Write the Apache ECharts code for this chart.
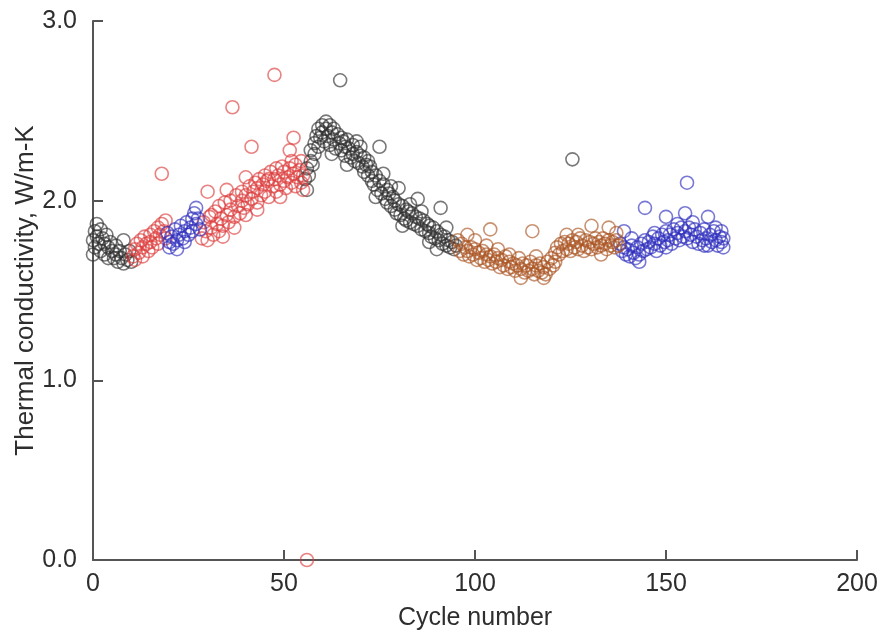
<!DOCTYPE html>
<html>
<head>
<meta charset="utf-8">
<script src="https://cdn.jsdelivr.net/npm/echarts@6/dist/echarts.min.js"></script>
<style>
  html, body { margin: 0; padding: 0; background: #fff; }
  #chart { width: 878px; height: 636px; }
</style>
</head>
<body>
<div id="chart"></div>
<script>
// [cycle, conductivity] pairs per colour group
var blackData = [
  [0,1.70],[0,1.78],[0.5,1.74],[0.5,1.83],[1,1.80],[1,1.87],[1.5,1.76],[2,1.84],[2,1.72],[2.5,1.79],
  [3,1.76],[3,1.70],[3.5,1.81],[4,1.74],[4,1.68],[4.5,1.77],[5,1.72],[5.5,1.68],[6,1.75],[6,1.70],
  [6.5,1.66],[7,1.72],[7.5,1.68],[8,1.78],[8,1.65],[8.5,1.70],[9,1.67],[9.5,1.72],[10,1.66],
  [55.5,2.12],[56,2.06],[56,2.18],[56.5,2.14],[57,2.22],[57,2.28],[57.5,2.20],[58,2.32],[58,2.26],
  [58.5,2.36],[59,2.30],[59,2.40],[59.5,2.35],[60,2.42],[60,2.38],[60.5,2.33],[61,2.44],[61,2.40],
  [61.5,2.36],[62,2.42],[62,2.31],[62.5,2.38],[62.5,2.26],[63,2.40],[63,2.34],[63.5,2.29],[64,2.37],
  [64.5,2.32],[64.7,2.67],[65,2.35],[65,2.28],[65.5,2.33],[66,2.30],[66,2.25],[66.5,2.34],[66.5,2.20],
  [67,2.29],[67.5,2.24],[68,2.31],[68,2.26],[68.5,2.22],[69,2.33],[69,2.27],[69.5,2.21],[70,2.25],
  [70,2.30],[70.5,2.19],[71,2.24],[71,2.16],[71.5,2.20],[72,2.14],[72,2.22],[72.5,2.19],[73,2.11],
  [73,2.16],[73.5,2.09],[74,2.14],[74,2.02],[74.5,2.06],[75,2.30],[75,2.11],[75.5,2.04],[76,2.09],
  [76,2.15],[76.5,2.01],[77,2.06],[77,1.99],[77.5,2.04],[78,1.97],[78,2.08],[78.5,2.02],[79,1.95],
  [79,2.00],[79.5,1.93],[80,2.07],[80,1.98],[80.5,1.92],[81,1.97],[81,1.86],[81.5,1.90],[82,1.95],
  [82,1.89],[82.5,1.94],[83,1.88],[83,1.98],[83.5,1.93],[84,1.87],[84.5,1.91],[85,2.01],[85,1.86],
  [85.5,1.90],[86,1.84],[86,1.94],[86.5,1.89],[87,1.83],[87.5,1.87],[88,1.82],[88,1.86],[88,1.77],
  [88.5,1.80],[89,1.85],[89.5,1.79],[90,1.83],[90,1.73],[90.5,1.78],[91,1.96],[91,1.81],[91.5,1.76],
  [92,1.80],[92.5,1.75],[92.5,1.85],[93,1.78],[93.5,1.74],[94,1.77],[94.5,1.73],[95,1.75],
  [125.5,2.23]
];
var redData = [
  [10.5,1.69],[11,1.73],[11,1.67],[11.5,1.76],[12,1.71],[12.5,1.78],[13,1.74],[13,1.69],[13.5,1.80],
  [14,1.76],[14.5,1.72],[15,1.81],[15,1.77],[15.5,1.74],[16,1.83],[16.5,1.79],[17,1.76],[17,1.85],
  [17.5,1.81],[18,2.15],[18,1.87],[18.5,1.83],[19,1.89],[19,1.79],
  [28.5,1.79],[29,1.88],[29.5,1.83],[30,2.05],[30,1.78],[30.5,1.91],[31,1.85],[31,1.92],[31.5,1.81],
  [32,1.94],[32.5,1.87],[33,1.83],[33,1.97],[33.5,1.90],[34,1.86],[34,1.80],[34.5,1.99],[35,2.06],
  [35,1.92],[35.5,1.88],[36,2.00],[36,1.95],[36.5,2.52],[37,1.91],[37,1.85],[37.5,2.03],[38,1.97],
  [38.5,1.93],[39,2.05],[39,2.00],[39.5,1.96],[40,2.13],[40,2.03],[40,1.92],[40.5,1.98],[41,2.08],
  [41.5,2.30],[41.5,2.01],[42,2.05],[42.5,2.10],[43,1.99],[43,2.07],[43,1.95],[43.5,2.12],[44,2.03],
  [44.5,2.09],[45,2.14],[45,2.05],[45.5,2.11],[46,2.02],[46,2.12],[46.5,2.16],[47,2.08],[47.5,2.70],
  [47.5,2.12],[48,2.18],[48,2.05],[48.5,2.14],[49,2.09],[49,2.02],[49.5,2.19],[50,2.11],[50,2.16],
  [50.5,2.07],[51,2.13],[51.5,2.28],[51.5,2.18],[52,2.10],[52,2.22],[52.5,2.35],[52.5,2.15],[53,2.20],
  [53,2.08],[53.5,2.13],[54,2.17],[54.5,2.10],[54.5,2.22],[55,2.14],[55,2.06],[56,0.0]
];
var blueData = [
  [19.5,1.82],[20,1.77],[20,1.74],[20.5,1.80],[21,1.76],[21.5,1.84],[22,1.78],[22,1.73],[22.5,1.81],
  [23,1.86],[23.5,1.79],[24,1.83],[24,1.77],[24.5,1.88],[25,1.81],[25.5,1.85],[26,1.90],[26,1.83],
  [26.5,1.93],[27,1.87],[27,1.96],[27.5,1.90],[28,1.84],
  [138,1.76],[138.5,1.72],[139,1.83],[139,1.74],[139.5,1.70],[140,1.73],[140.5,1.69],[141,1.75],
  [141,1.79],[141.5,1.71],[142,1.68],[142.5,1.74],[143,1.70],[143,1.66],[143.5,1.76],[144,1.72],
  [144.5,1.96],[144.5,1.78],[145,1.73],[145.5,1.77],[146,1.74],[146.5,1.80],[147,1.76],[147,1.82],
  [147.5,1.72],[148,1.79],[148.5,1.75],[149,1.81],[149.5,1.77],[150,1.91],[150,1.83],[150,1.74],
  [150.5,1.78],[151,1.81],[151.5,1.76],[152,1.84],[152.5,1.79],[153,1.82],[153,1.87],[153.5,1.78],
  [154,1.85],[154.5,1.80],[155,1.93],[155,1.83],[155.5,2.10],[155.5,1.79],[156,1.85],[156.5,1.81],
  [157,1.77],[157,1.88],[157.5,1.84],[158,1.80],[158.5,1.76],[159,1.82],[159.5,1.78],[160,1.84],
  [160,1.75],[160.5,1.79],[161,1.91],[161,1.75],[161.5,1.81],[162,1.77],[162.5,1.83],[163,1.78],
  [163,1.85],[163.5,1.75],[164,1.80],[164.5,1.83],[164.5,1.77],[165,1.79],[165,1.74]
];
var brownData = [
  [95.5,1.78],[96,1.72],[96.5,1.76],[97,1.70],[97.5,1.74],[98,1.81],[98,1.72],[98.5,1.69],[99,1.74],
  [99.5,1.70],[100,1.73],[100,1.78],[100.5,1.67],[101,1.71],[101.5,1.68],[102,1.72],[102.5,1.66],
  [103,1.70],[103,1.75],[103.5,1.67],[104,1.84],[104,1.69],[104.5,1.65],[105,1.70],[105.5,1.66],
  [106,1.68],[106,1.73],[106.5,1.63],[107,1.67],[107.5,1.64],[108,1.69],[108.5,1.62],[109,1.66],
  [109,1.70],[109.5,1.63],[110,1.65],[110.5,1.61],[111,1.64],[111.5,1.68],[112,1.62],[112,1.57],
  [112.5,1.65],[113,1.60],[113.5,1.64],[114,1.61],[114.5,1.66],[115,1.83],[115,1.62],[115.5,1.59],
  [116,1.64],[116,1.69],[116.5,1.61],[117,1.65],[117.5,1.60],[118,1.63],[118,1.57],[118.5,1.59],
  [119,1.66],[119.5,1.62],[120,1.68],[120.5,1.64],[121,1.71],[121,1.66],[121.5,1.74],[122,1.70],
  [122.5,1.76],[123,1.72],[123.5,1.77],[124,1.81],[124,1.73],[124.5,1.76],[125,1.72],[125.5,1.78],
  [126,1.74],[126.5,1.77],[127,1.73],[127,1.81],[127.5,1.79],[128,1.75],[128.5,1.72],[129,1.78],
  [129.5,1.74],[130,1.77],[130.5,1.86],[130.5,1.73],[131,1.76],[131.5,1.79],[132,1.74],[132.5,1.77],
  [133,1.75],[133,1.70],[133.5,1.79],[134,1.76],[134.5,1.73],[135,1.85],[135,1.78],[135.5,1.75],
  [136,1.77],[136.5,1.74],[137,1.78],[137,1.82],[137.5,1.75]
];
var xTicks = [0, 50, 100, 150, 200];
var yTicks = [0, 1, 2, 3];

function ring(name, data, col) {
  return {
    name: name,
    type: 'scatter',
    data: data,
    symbol: 'circle',
    symbolSize: 13,
    itemStyle: { color: 'rgba(255,255,255,0)', borderColor: col, borderWidth: 1.6 }
  };
}

var chart = echarts.init(document.getElementById('chart'));
var axisTxt = { color: '#2e2e2e', fontFamily: 'Liberation Sans', fontSize: 25 };
var option = {
  animation: false,
  grid: { left: 93, right: 21, top: 21, bottom: 76, outerBoundsMode: 'none' },
  xAxis: {
    type: 'value', min: xTicks[0], max: xTicks[xTicks.length - 1], interval: 50,
    name: 'Cycle number', nameLocation: 'middle', nameGap: 46, nameMoveOverlap: false,
    nameTextStyle: { color: '#2e2e2e', fontFamily: 'Liberation Sans', fontSize: 25 },
    axisLine: { show: true, lineStyle: { color: '#555', width: 2 } },
    axisTick: { show: true, inside: true, length: 10, lineStyle: { color: '#555', width: 2 } },
    axisLabel: Object.assign({ margin: 12 }, axisTxt),
    splitLine: { show: false }
  },
  yAxis: {
    type: 'value', min: yTicks[0], max: yTicks[yTicks.length - 1], interval: 1,
    name: 'Thermal conductivity, W/m-K', nameLocation: 'middle', nameGap: 54, nameMoveOverlap: false,
    nameTextStyle: { color: '#2e2e2e', fontFamily: 'Liberation Sans', fontSize: 26 },
    axisLine: { show: true, lineStyle: { color: '#555', width: 2 } },
    axisTick: { show: true, inside: true, length: 10, lineStyle: { color: '#555', width: 2 } },
    axisLabel: Object.assign({ margin: 16, formatter: function (v) { return v.toFixed(1); } }, axisTxt),
    splitLine: { show: false }
  },
  series: [
    ring('black', blackData, 'rgba(45,45,45,0.8)'),
    ring('red', redData, 'rgba(220,60,60,0.8)'),
    ring('blue', blueData, 'rgba(45,45,190,0.8)'),
    ring('brown', brownData, 'rgba(170,85,35,0.8)')
  ]
};
chart.setOption(option);
window.addEventListener('resize', function () {
  chart.resize();
});
</script>
</body>
</html>
